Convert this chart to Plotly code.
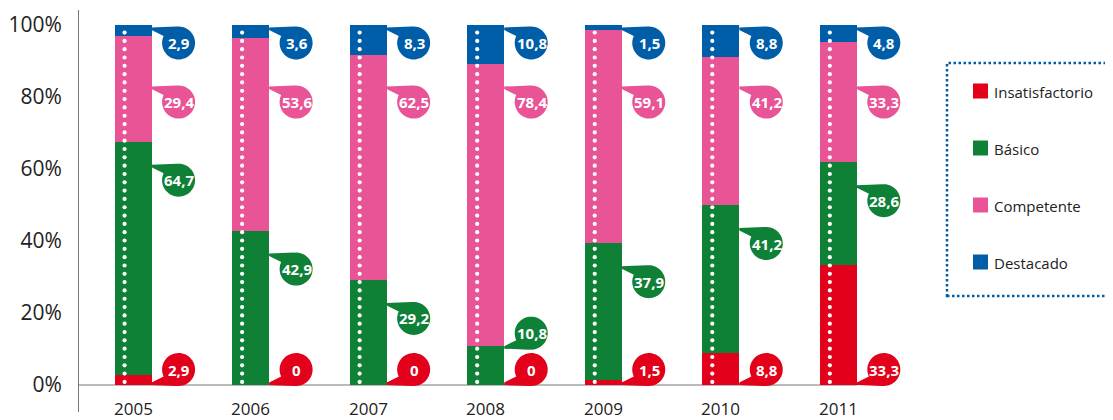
import numpy as np
import plotly.graph_objects as go

# ---------------- data ----------------
years = ["2005", "2006", "2007", "2008", "2009", "2010", "2011"]
series_names = ["Insatisfactorio", "Básico", "Competente", "Destacado"]
insatisfactorio = [2.9, 0, 0, 0, 1.5, 8.8, 33.3]
basico = [64.7, 42.9, 29.2, 10.8, 37.9, 41.2, 28.6]
competente = [29.4, 53.6, 62.5, 78.4, 59.1, 41.2, 33.3]
destacado = [2.9, 3.6, 8.3, 10.8, 1.5, 8.8, 4.8]
y_tick_values = [0, 20, 40, 60, 80, 100]

# ---------------- style / layout constants ----------------
colors = {
    "Insatisfactorio": "#E2001A",
    "Básico": "#0F8137",
    "Competente": "#E85495",
    "Destacado": "#005EA8",
}
OFF = 8  # default page body margin
W, H = 1113 - OFF, 420 - OFF
M_L, M_T = 79 - OFF, 10 - OFF
PW, PH = 851, 402
M_R = W - M_L - PW
M_B = H - M_T - PH
X_RANGE = [-0.46, 6.78]
Y_RANGE = [-7.5, 104.1667]
PX_X = PW / (X_RANGE[1] - X_RANGE[0])
PX_Y = PH / (Y_RANGE[1] - Y_RANGE[0])

BAR_W_PX = 37.0
BUB_OFF_PX = 45.5
BUB_R = 16.5
DOT_OFF_PX = -8.5

# label-centre placement (in %)
DEST_Y = 95.0
COMP_Y = 78.6
INS_Y = 4.3
BAS_OFFSET = 10.7
BAS_MIN = 14.4

fig = go.Figure()
xs = list(range(len(years)))
series_vals = [insatisfactorio, basico, competente, destacado]
for name, vals in zip(series_names, series_vals):
    fig.add_trace(go.Bar(
        x=xs, y=vals, name=name, width=BAR_W_PX / PX_X,
        marker=dict(color=colors[name], line=dict(width=0)),
        showlegend=False, hoverinfo="skip",
    ))

# white dotted lines inside each bar
dot_y = np.linspace(0.85, 97.9, 43)
dx_list, dy_list = [], []
for i in xs:
    dx_list += [i + DOT_OFF_PX / PX_X] * len(dot_y)
    dy_list += list(dot_y)
fig.add_trace(go.Scatter(
    x=dx_list, y=dy_list, mode="markers",
    marker=dict(color="white", size=4.2, line=dict(width=0)),
    showlegend=False, hoverinfo="skip",
))


def fmt(v):
    if float(v) == int(v):
        return str(int(v))
    return f"{v:.1f}".replace(".", ",")


def bubble_path(i, yc, tail):
    r = BUB_R
    br = BAR_W_PX / 2
    if tail == "top":
        pts = [(br, -r + 1), (BUB_OFF_PX - 2, -r)]
        angs = np.linspace(-95, 205, 48)
        pts += [(BUB_OFF_PX + r * np.cos(np.radians(a)), r * np.sin(np.radians(a))) for a in angs]
        pts += [(br, -r + 3.5)]
    else:
        pts = [(br, r - 1), (BUB_OFF_PX - 2, r)]
        angs = np.linspace(95, -205, 48)
        pts += [(BUB_OFF_PX + r * np.cos(np.radians(a)), r * np.sin(np.radians(a))) for a in angs]
        pts += [(br, r - 3.5)]
    coords = [(i + ox / PX_X, yc - oy / PX_Y) for ox, oy in pts]
    return "M " + " L ".join(f"{x:.5f},{y:.5f}" for x, y in coords) + " Z"


shapes = []
annotations = []
for i in xs:
    labels = []
    labels.append(("Destacado", destacado[i], DEST_Y, "top"))
    labels.append(("Competente", competente[i], COMP_Y, "top"))
    top_b = insatisfactorio[i] + basico[i]
    by = top_b - BAS_OFFSET
    if by < BAS_MIN:
        labels.append(("Básico", basico[i], BAS_MIN, "bottom"))
    else:
        labels.append(("Básico", basico[i], by, "top"))
    labels.append(("Insatisfactorio", insatisfactorio[i], INS_Y, "bottom"))
    for name, v, yc, tail in labels:
        shapes.append(dict(type="path", xref="x", yref="y", path=bubble_path(i, yc, tail),
                           fillcolor=colors[name], line=dict(width=0), layer="above"))
        annotations.append(dict(x=i + (BUB_OFF_PX + 0.5) / PX_X, y=yc, xref="x", yref="y",
                                text=f"<b>{fmt(v)}</b>", showarrow=False,
                                font=dict(family="Open Sans", size=15, color="white"),
                                xanchor="center", yanchor="middle"))
    # year labels
    annotations.append(dict(x=i, y=-23 / PX_Y, xref="x", yref="y",
                            text=years[i], showarrow=False,
                            font=dict(family="Open Sans", size=17, color="#222"),
                            xanchor="center", yanchor="middle"))

# baseline
shapes.append(dict(type="line", xref="x", yref="y", x0=X_RANGE[0], x1=xs[-1] + BAR_W_PX / 2 / PX_X,
                   y0=0, y1=0, line=dict(color="#777", width=1), layer="below"))


def paper_x(px):
    return (px - OFF - M_L) / PW


def paper_y(py):
    return (OFF + M_T + PH - py) / PH


# legend box
shapes.append(dict(type="rect", xref="paper", yref="paper",
                   x0=paper_x(947), x1=paper_x(1125), y0=paper_y(296), y1=paper_y(63),
                   line=dict(color=colors["Destacado"], width=2.5, dash="2.5px,2.5px"),
                   fillcolor="rgba(0,0,0,0)"))
leg_y = [91, 148, 205, 262]
for name, ly in zip(series_names, leg_y):
    shapes.append(dict(type="rect", xref="paper", yref="paper",
                       x0=paper_x(973), x1=paper_x(988), y0=paper_y(ly + 7.5), y1=paper_y(ly - 7.5),
                       fillcolor=colors[name], line=dict(width=0)))
    annotations.append(dict(x=paper_x(992), y=paper_y(ly + 1), xref="paper", yref="paper",
                            text=name, showarrow=False,
                            font=dict(family="Liberation Sans Narrow, Open Sans", size=15, color="#222"),
                            xanchor="left", yanchor="middle"))

fig.update_layout(
    width=W, height=H, barmode="stack",
    margin=dict(l=M_L, r=M_R, t=M_T, b=M_B, autoexpand=False),
    plot_bgcolor="white", paper_bgcolor="white",
    shapes=shapes, annotations=annotations, hovermode=False,
    xaxis=dict(range=X_RANGE, showgrid=False, zeroline=False, showticklabels=False,
               showline=False, fixedrange=True),
    yaxis=dict(range=Y_RANGE, showgrid=False, zeroline=False, showline=True,
               linecolor="#777", linewidth=1,
               tickvals=y_tick_values, ticktext=[f"{v}%" for v in y_tick_values],
               tickfont=dict(family="Open Sans", size=21, color="#222"),
               ticks="", ticklabelstandoff=12, fixedrange=True),
)

fig.write_html("out.html")
